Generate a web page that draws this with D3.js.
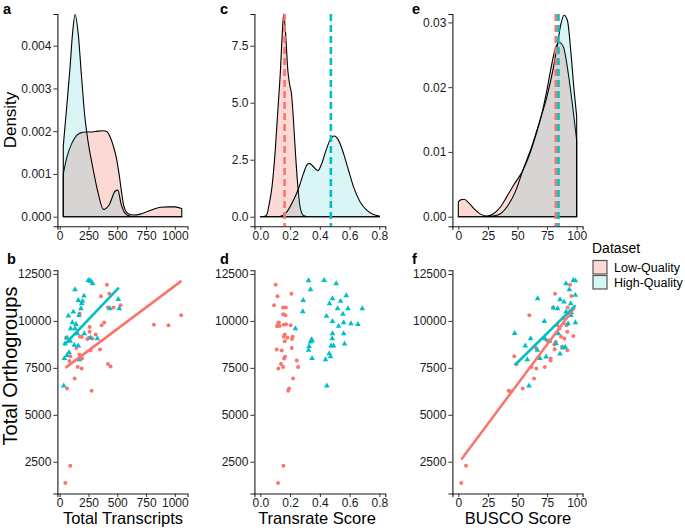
<!doctype html>
<html>
<head>
    <meta charset="utf-8">
    <title>Transcriptome quality</title>
    <style>
        body { margin: 0; background: #fff; }
        svg text { font-family: "Liberation Sans", Arial, sans-serif; }
        .axis .domain { stroke: #1a1a1a; stroke-width: 1.1; }
        .axis .tick line { stroke: #333; stroke-width: 1; }
        .axis .tick text { fill: #1a1a1a; font-size: 12px; }
    </style>
</head>
<body>
    <div id="chart"></div>

    <script src="https://cdn.jsdelivr.net/npm/d3@7"></script>
    <script>
        // density curves: [value, density]
        var densA_low = [[31, 0.00100], [63, 0.00140], [106, 0.00172], [144, 0.00189], [182, 0.00196], [230, 0.00198],
            [280, 0.00198], [330, 0.00200], [380, 0.00201], [408, 0.00199], [440, 0.00185], [466, 0.00165],
            [494, 0.00135], [517, 0.00097], [537, 0.00058], [557, 0.00025], [595, 0.00007], [640, 0.00004],
            [700, 0.00006], [760, 0.00012], [820, 0.00018], [880, 0.00022], [940, 0.00023], [1000, 0.00023], [1060, 0.00019]];
        var densA_high = [[31, 0.00165], [62, 0.0026], [90, 0.0035], [112, 0.0043], [134, 0.00473], [160, 0.0043],
            [189, 0.0033], [216, 0.0024], [244, 0.0018], [286, 0.00117], [328, 0.00062], [380, 0.00017],
            [430, 0.00028], [483, 0.0006], [505, 0.00062], [533, 0.0003], [567, 0.00008], [600, 0.00002],
            [650, 0], [1060, 0]];

        var densC_low = [[0, 0], [0.03, 0.02], [0.045, 0.12], [0.056, 0.44], [0.078, 1.3], [0.1, 2.9], [0.116, 4.5],
            [0.134, 6.3], [0.147, 8.0], [0.157, 8.9], [0.168, 8.2], [0.185, 6.4], [0.197, 5.8], [0.21, 5.35],
            [0.222, 4.3], [0.235, 2.9], [0.25, 1.5], [0.268, 0.4], [0.29, 0.05], [0.32, 0], [0.8, 0]];
        var densC_high = [[0, 0], [0.12, 0], [0.15, 0.05], [0.179, 0.22], [0.223, 0.73], [0.257, 1.24], [0.29, 1.9],
            [0.313, 2.27], [0.33, 2.34], [0.357, 2.19], [0.387, 2.02], [0.413, 2.34], [0.442, 2.92], [0.469, 3.36],
            [0.496, 3.54], [0.525, 3.36], [0.559, 2.78], [0.592, 2.05], [0.626, 1.32], [0.67, 0.66], [0.715, 0.29],
            [0.76, 0.1], [0.8, 0.03]];

        var densE_low = [[0, 0.0023], [2, 0.0026], [4.8, 0.0027], [9, 0.0021], [13, 0.0013], [18.8, 0.0004],
            [24.4, 0.0001], [30, 0.0005], [35.6, 0.0015], [41, 0.0031], [46.8, 0.0049], [53.8, 0.0069],
            [59.4, 0.0092], [65, 0.0123], [70.6, 0.0159], [74.8, 0.0195], [79, 0.0236], [82.4, 0.0262],
            [85.4, 0.0269], [88.8, 0.0262], [93, 0.022], [97, 0.0164], [100, 0.0118]];
        var densE_high = [[0, 0], [20, 0], [27, 0.00005], [34, 0.0003], [41, 0.0015], [48, 0.0038], [55, 0.0074],
            [62, 0.0108], [69, 0.0149], [74.8, 0.0185], [80.4, 0.0231], [83.8, 0.0267], [86.6, 0.0297],
            [89.4, 0.0311], [92.2, 0.0303], [95, 0.0256], [97.8, 0.0195], [100, 0.0155]];

        // group means (dashed lines)
        var meanC = [0.163, 0.474];
        var meanE = [82.3, 84.6];

        // scatter points: [x, total orthogroups]
        var lowB = [[410, 11930], [358, 11310], [431, 11450], [419, 10710], [468, 10710], [529, 10830], [173, 10390],
            [387, 9910], [364, 9770], [260, 9680], [312, 9270], [260, 9420], [191, 9150], [176, 9150], [240, 9030],
            [254, 9100], [283, 9060], [55, 9100], [144, 8560], [269, 8440], [350, 8480], [171, 8210], [92, 8120],
            [84, 7870], [194, 8000], [156, 7550], [191, 7470], [419, 7700], [442, 7570], [130, 6930], [64, 6400],
            [277, 6280], [818, 9800], [945, 9770], [1055, 10300], [92, 2290], [49, 1370]];
        var highB = [[249, 12160], [272, 12110], [286, 11990], [262, 12140], [133, 11670], [211, 11330], [162, 11100],
            [199, 11050], [191, 10920], [509, 11150], [517, 10660], [436, 10660], [185, 10660], [118, 10480],
            [75, 10270], [168, 10300], [110, 9910], [142, 9820], [95, 9590], [133, 9590], [64, 9100], [153, 9330],
            [214, 9330], [46, 8790], [92, 8920], [127, 8710], [327, 9060], [269, 9100], [162, 8670], [81, 8320],
            [64, 8170], [40, 8000], [168, 7940], [35, 6540]];

        var lowD = [[0.103, 11930], [0.209, 11450], [0.115, 11310], [0.092, 10830], [0.153, 10710], [0.171, 10710],
            [0.153, 10360], [0.169, 10300], [0.124, 9910], [0.119, 9860], [0.112, 9720], [0.130, 9730], [0.157, 9800],
            [0.173, 9820], [0.204, 9770], [0.164, 9270], [0.157, 9150], [0.182, 9100], [0.218, 9150], [0.213, 9030],
            [0.164, 8920], [0.110, 8480], [0.144, 8420], [0.211, 8560], [0.166, 8090], [0.160, 8000], [0.245, 7890],
            [0.139, 7700], [0.153, 7550], [0.121, 7470], [0.254, 7550], [0.220, 6930], [0.193, 6400], [0.187, 6280],
            [0.155, 2290], [0.119, 1370]];
        var highD = [[0.324, 12150], [0.429, 12160], [0.510, 11990], [0.337, 11670], [0.578, 11350], [0.485, 11190],
            [0.288, 11100], [0.539, 11050], [0.465, 10920], [0.685, 10660], [0.519, 10660], [0.589, 10660],
            [0.285, 10500], [0.555, 10360], [0.445, 10250], [0.485, 9980], [0.560, 9910], [0.609, 9860],
            [0.656, 9820], [0.526, 9720], [0.236, 9590], [0.485, 9330], [0.560, 9330], [0.483, 9060], [0.344, 9010],
            [0.337, 8880], [0.348, 8950], [0.476, 8670], [0.492, 8670], [0.566, 8780], [0.328, 8650], [0.324, 8440],
            [0.463, 8260], [0.472, 8100], [0.348, 8000], [0.438, 7940], [0.447, 6540]];

        var lowF = [[2.5, 1370], [6.5, 2290], [42.5, 6280], [44, 6250], [54.4, 6400], [64, 6930], [61.7, 7550],
            [65.9, 7470], [73, 7540], [78, 8000], [78, 7890], [49.3, 7700], [47.3, 8120], [65.6, 8560], [60, 10300],
            [81.7, 11450], [80, 10710], [92.4, 10710], [94.4, 11930], [95.5, 11330], [85.4, 9590], [74.6, 8970],
            [77.2, 8920], [82.3, 8880], [86.8, 9150], [89.6, 9060], [83.7, 9770], [89, 9890], [91.5, 9770],
            [92.1, 9420], [97.2, 9200], [81.1, 8740], [81.4, 8490], [87.6, 8620], [92.1, 8440], [88.5, 10140]];
        var highF = [[97.2, 12160], [98.9, 12140], [91, 11990], [93.8, 11670], [98.9, 11370], [67, 11190],
            [85.9, 11140], [89.3, 11010], [80.3, 10690], [83.9, 10660], [94.9, 10920], [91, 10480], [95.2, 10300],
            [92.7, 9860], [98.9, 9910], [72.7, 9980], [47.6, 9340], [61.1, 9060], [73.2, 9060], [56.6, 8670],
            [66.8, 8440], [58.3, 7940], [69, 8000], [74.1, 8090], [76.9, 8920], [82.5, 8790], [84.5, 9330],
            [88.2, 8560], [85.9, 8250], [90.4, 8600], [59.7, 6540], [95.5, 10450]];

        // fitted lines
        var fitB_low = [[49, 7500], [1058, 12130]];
        var fitB_high = [[38, 8710], [514, 11770]];
        var fitF_low = [[2.5, 2620], [98.5, 10730]];
        var fitF_high = [[47.6, 7640], [99, 10830]];

        var groups = ["Low-Quality", "High-Quality"];
        var ticksA = [0, 0.001, 0.002, 0.003, 0.004];
        var ticksC = [0, 2.5, 5, 7.5];
        var ticksE = [0, 0.01, 0.02, 0.03];
        var ticksOrtho = [2500, 5000, 7500, 10000, 12500];
        var ticksTranscripts = [0, 250, 500, 750, 1000];
        var ticksTransrate = [0, 0.2, 0.4, 0.6, 0.8];
        var ticksBusco = [0, 25, 50, 75, 100];

        var colors = ["#F8766D", "#00BFC4"];
        var fillOpacity = [0.28, 0.15];

        var svg = d3.select("#chart").append("svg")
            .attr("width", 685)
            .attr("height", 528);

        var top_row = [14, 226.3];
        var bottom_row = [270.2, 493.5];
        var cols = [[57.4, 187.5], [254.4, 385.3], [452.4, 582.6]];

        var x0 = d3.scaleLinear().domain([-20, 1110]).range(cols[0]);
        var x1 = d3.scaleLinear().domain([-0.04, 0.84]).range(cols[1]);
        var x2 = d3.scaleLinear().domain([-5, 105]).range(cols[2]);

        var yA = d3.scaleLinear().domain([-0.000225, 0.00474]).range([top_row[1], top_row[0]]);
        var yC = d3.scaleLinear().domain([-0.42, 8.89]).range([top_row[1], top_row[0]]);
        var yE = d3.scaleLinear().domain([-0.00148, 0.0313]).range([top_row[1], top_row[0]]);
        var yO = d3.scaleLinear().domain([810, 12700]).range([bottom_row[1], bottom_row[0]]);

        function drawAxes(x, y, xticks, yticks, xfmt, yfmt, rowBottom) {
            svg.append("g")
                .attr("class", "axis")
                .attr("transform", "translate(0," + rowBottom + ")")
                .call(d3.axisBottom(x).tickValues(xticks).tickFormat(xfmt).tickSizeOuter(0).tickSize(3.5).tickPadding(1.5));
            svg.append("g")
                .attr("class", "axis")
                .attr("transform", "translate(" + x.range()[0] + ",0)")
                .call(d3.axisLeft(y).tickValues(yticks).tickFormat(yfmt).tickSizeOuter(0).tickSize(4).tickPadding(2));
        }

        function drawDensity(x, y, curves, means) {
            var area = d3.area()
                .x(function(d) { return x(d[0]); })
                .y0(y(0))
                .y1(function(d) { return y(d[1]); })
                .curve(d3.curveMonotoneX);

            curves.forEach(function(c, i) {
                svg.append("path")
                    .datum(c)
                    .attr("d", area)
                    .attr("fill", colors[i])
                    .attr("fill-opacity", fillOpacity[i])
                    .attr("stroke", "#000")
                    .attr("stroke-width", 1.1)
                    .attr("stroke-linejoin", "round");
            });

            if (means) {
                means.forEach(function(m, i) {
                    svg.append("line")
                        .attr("x1", x(m)).attr("x2", x(m))
                        .attr("y1", top_row[0]).attr("y2", top_row[1])
                        .attr("stroke", colors[i])
                        .attr("stroke-width", 2.6)
                        .attr("stroke-dasharray", "7,4");
                });
            }
        }

        function drawScatter(x, y, low, high, fits) {
            svg.append("g").selectAll("circle")
                .data(low)
              .enter().append("circle")
                .attr("cx", function(d) { return x(d[0]); })
                .attr("cy", function(d) { return y(d[1]); })
                .attr("r", 2)
                .attr("fill", colors[0]);

            svg.append("g").selectAll("path")
                .data(high)
              .enter().append("path")
                .attr("d", d3.symbol().type(d3.symbolTriangle).size(14))
                .attr("transform", function(d) {
                    return "translate(" + x(d[0]) + "," + y(d[1]) + ")";
                })
                .attr("fill", colors[1]);

            if (fits) {
                var line = d3.line()
                    .x(function(d) { return x(d[0]); })
                    .y(function(d) { return y(d[1]); });
                fits.forEach(function(f, i) {
                    svg.append("path")
                        .datum(f)
                        .attr("d", line)
                        .attr("fill", "none")
                        .attr("stroke", colors[i])
                        .attr("stroke-width", 2.6);
                });
            }
        }

        var f1 = d3.format(".1f");
        drawDensity(x0, yA, [densA_low, densA_high], null);
        drawDensity(x1, yC, [densC_low, densC_high], meanC);
        drawDensity(x2, yE, [densE_low, densE_high], meanE);

        drawAxes(x0, yA, ticksTranscripts, ticksA, d3.format("d"), d3.format(".3f"), top_row[1]);
        drawAxes(x1, yC, ticksTransrate, ticksC, f1, f1, top_row[1]);
        drawAxes(x2, yE, ticksBusco, ticksE, d3.format("d"), d3.format(".2f"), top_row[1]);

        drawScatter(x0, yO, lowB, highB, [fitB_low, fitB_high]);
        drawScatter(x1, yO, lowD, highD, null);
        drawScatter(x2, yO, lowF, highF, [fitF_low, fitF_high]);

        drawAxes(x0, yO, ticksTranscripts, ticksOrtho, d3.format("d"), d3.format("d"), bottom_row[1]);
        drawAxes(x1, yO, ticksTransrate, ticksOrtho, f1, d3.format("d"), bottom_row[1]);
        drawAxes(x2, yO, ticksBusco, ticksOrtho, d3.format("d"), d3.format("d"), bottom_row[1]);

        // panel letters
        var letters = [["a", 3, 14], ["c", 220, 14], ["e", 412, 14], ["b", 7, 264], ["d", 220, 264], ["f", 412, 264]];
        svg.selectAll("text.letter")
            .data(letters)
          .enter().append("text")
            .attr("class", "letter")
            .attr("x", function(d) { return d[1]; })
            .attr("y", function(d) { return d[2]; })
            .attr("font-size", 14.5)
            .attr("font-weight", "bold")
            .text(function(d) { return d[0]; });

        // axis titles
        svg.append("text")
            .attr("transform", "translate(16,120) rotate(-90)")
            .attr("text-anchor", "middle")
            .attr("font-size", 17)
            .text("Density");
        svg.append("text")
            .attr("transform", "translate(17,366) rotate(-90)")
            .attr("text-anchor", "middle")
            .attr("font-size", 20)
            .text("Total Orthogroups");

        var xTitles = [["Total Transcripts", 123], ["Transrate Score", 317], ["BUSCO Score", 518]];
        xTitles.forEach(function(t) {
            svg.append("text")
                .attr("x", t[1])
                .attr("y", 523.5)
                .attr("text-anchor", "middle")
                .attr("font-size", 16.5)
                .text(t[0]);
        });

        // legend
        var legend = svg.append("g").attr("transform", "translate(592,0)");
        legend.append("text")
            .attr("x", 0)
            .attr("y", 253)
            .attr("font-size", 14)
            .text("Dataset");
        groups.forEach(function(g, i) {
            legend.append("rect")
                .attr("x", 1).attr("y", 260.5 + i * 15)
                .attr("width", 14).attr("height", 13.5)
                .attr("fill", "#fff");
            legend.append("rect")
                .attr("x", 1).attr("y", 260.5 + i * 15)
                .attr("width", 14).attr("height", 13.5)
                .attr("fill", colors[i])
                .attr("fill-opacity", fillOpacity[i])
                .attr("stroke", "#555")
                .attr("stroke-width", 1.2);
            legend.append("text")
                .attr("x", 22)
                .attr("y", 267.5 + i * 15)
                .attr("dy", "0.35em")
                .attr("font-size", 12.5)
                .text(g);
        });
    </script>
</body>
</html>
